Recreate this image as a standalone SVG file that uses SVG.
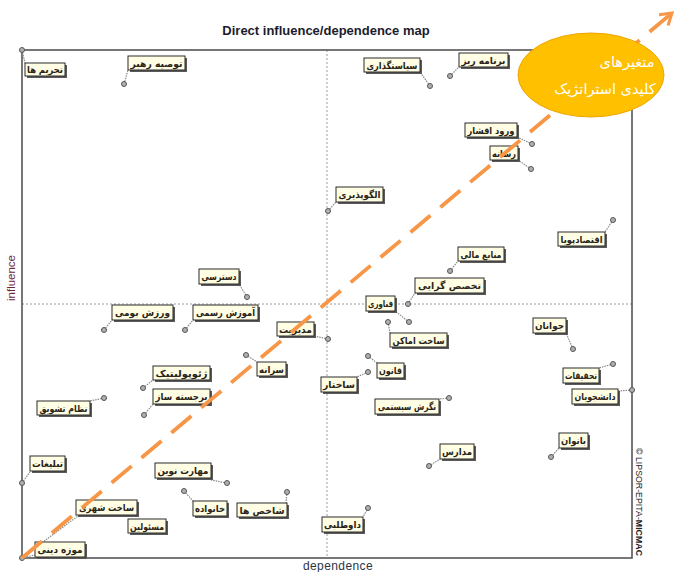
<svg xmlns="http://www.w3.org/2000/svg" width="698" height="572" viewBox="0 0 698 572">
<style>
.sh{fill:#5a5a5a}
.bx{fill:#FFFEE4;stroke:#2a2a2a;stroke-width:1}
.lb{font-family:"DejaVu Sans",sans-serif;font-size:9.5px;font-weight:bold;fill:#2a2418;text-anchor:middle}
.pt{fill:#b0b0b0;stroke:#555;stroke-width:1}
.cn{stroke:#8a8a8a;stroke-width:1.2;stroke-dasharray:1.5 1;fill:none}
.mid{stroke:#9a9a9a;stroke-width:1;stroke-dasharray:2 2;fill:none}
</style>
<defs>
<marker id="ah" markerUnits="userSpaceOnUse" markerWidth="20" markerHeight="20" refX="12" refY="8" orient="auto">
<path d="M1,1 L12,8 L1,15" fill="none" stroke="#F79646" stroke-width="3" stroke-linejoin="miter"/>
</marker>
</defs>
<rect width="698" height="572" fill="#ffffff"/>
<text x="326" y="35" font-family="Liberation Sans, Arial, sans-serif" font-size="13" font-weight="bold" fill="#1c1c2c" text-anchor="middle">Direct influence/dependence map</text>
<g id="frame">
<line class="mid" x1="327" y1="50" x2="327" y2="558"/>
<line class="mid" x1="22" y1="304" x2="632" y2="304"/>
<rect x="22" y="50" width="610" height="508" fill="none" stroke="#555" stroke-width="1.6"/>
</g>
<text transform="translate(15,278) rotate(-90)" font-family="Liberation Sans, Arial, sans-serif" font-size="11.5" fill="#6b2b3a" text-anchor="middle">influence</text>
<text x="338" y="570" font-family="Liberation Sans, Arial, sans-serif" font-size="12" letter-spacing="0.4" fill="#2d3545" text-anchor="middle">dependence</text>
<text transform="translate(636,448) rotate(90)" font-family="Liberation Sans, Arial, sans-serif" font-size="8.8" fill="#222">© LIPSOR-EPITA-<tspan font-weight="bold">MICMAC</tspan></text>
<g id="connectors">
<line class="cn" x1="22" y1="50" x2="25" y2="63"/>
<line class="cn" x1="124" y1="84" x2="128" y2="70"/>
<line class="cn" x1="430" y1="86" x2="420" y2="72"/>
<line class="cn" x1="450" y1="76" x2="459" y2="67"/>
<line class="cn" x1="532" y1="144" x2="517" y2="137"/>
<line class="cn" x1="531" y1="169" x2="518" y2="160"/>
<line class="cn" x1="328" y1="211" x2="336" y2="202"/>
<line class="cn" x1="613" y1="220" x2="605" y2="232"/>
<line class="cn" x1="450" y1="271" x2="458" y2="261"/>
<line class="cn" x1="408" y1="304" x2="415" y2="293"/>
<line class="cn" x1="409" y1="322" x2="395" y2="311"/>
<line class="cn" x1="388" y1="322" x2="390" y2="333"/>
<line class="cn" x1="328" y1="339" x2="314" y2="336"/>
<line class="cn" x1="246" y1="355" x2="257" y2="362"/>
<line class="cn" x1="247" y1="297" x2="239" y2="284"/>
<line class="cn" x1="185" y1="330" x2="193" y2="320"/>
<line class="cn" x1="104" y1="330" x2="112" y2="320"/>
<line class="cn" x1="143" y1="388" x2="153" y2="380"/>
<line class="cn" x1="144" y1="415" x2="153" y2="404"/>
<line class="cn" x1="104" y1="398" x2="90" y2="401"/>
<line class="cn" x1="22" y1="483" x2="30" y2="472"/>
<line class="cn" x1="227" y1="483" x2="211" y2="480"/>
<line class="cn" x1="184" y1="491" x2="193" y2="501"/>
<line class="cn" x1="287" y1="492" x2="286" y2="503"/>
<line class="cn" x1="368" y1="508" x2="363" y2="517"/>
<line class="cn" x1="24" y1="556" x2="78" y2="516"/>
<line class="cn" x1="368" y1="356" x2="377" y2="363"/>
<line class="cn" x1="368" y1="372" x2="357" y2="377"/>
<line class="cn" x1="449" y1="398" x2="439" y2="399"/>
<line class="cn" x1="429" y1="466" x2="440" y2="459"/>
<line class="cn" x1="551" y1="457" x2="559" y2="448"/>
<line class="cn" x1="632" y1="390" x2="618" y2="391"/>
<line class="cn" x1="613" y1="364" x2="599" y2="368"/>
<line class="cn" x1="573" y1="349" x2="566" y2="333"/>
<line class="cn" x1="22" y1="558" x2="35" y2="555"/>
</g>
<g id="n01"><circle class="pt" cx="22" cy="50" r="2.5"/><rect class="sh" x="27" y="65" width="40" height="13"/><rect class="bx" x="25" y="63" width="40" height="13"/><text class="lb" x="45" y="73" textLength="36" lengthAdjust="spacingAndGlyphs">تحریم ها</text></g>
<g id="n02"><circle class="pt" cx="124" cy="84" r="2.5"/><rect class="sh" x="130" y="58" width="57" height="14"/><rect class="bx" x="128" y="56" width="57" height="14"/><text class="lb" x="156.5" y="66.5" textLength="52" lengthAdjust="spacingAndGlyphs">توصیه رهبر</text></g>
<g id="n03"><circle class="pt" cx="430" cy="86" r="2.5"/><rect class="sh" x="366" y="60" width="56" height="14"/><rect class="bx" x="364" y="58" width="56" height="14"/><text class="lb" x="392" y="68.5" textLength="51" lengthAdjust="spacingAndGlyphs">سیاستگذاری</text></g>
<g id="n04"><circle class="pt" cx="450" cy="76" r="2.5"/><rect class="sh" x="461" y="55" width="49" height="14"/><rect class="bx" x="459" y="53" width="49" height="14"/><text class="lb" x="483.5" y="63.5" textLength="44" lengthAdjust="spacingAndGlyphs">برنامه ریز</text></g>
<g id="n05"><circle class="pt" cx="532" cy="144" r="2.5"/><rect class="sh" x="467" y="125" width="52" height="14"/><rect class="bx" x="465" y="123" width="52" height="14"/><text class="lb" x="491" y="133.5" textLength="47" lengthAdjust="spacingAndGlyphs">ورود اقشار</text></g>
<g id="n06"><circle class="pt" cx="531" cy="169" r="2.5"/><rect class="sh" x="492" y="148" width="28" height="14"/><rect class="bx" x="490" y="146" width="28" height="14"/><text class="lb" x="504" y="156.5" textLength="24" lengthAdjust="spacingAndGlyphs">رسانه</text></g>
<g id="n07"><circle class="pt" cx="328" cy="211" r="2.5"/><rect class="sh" x="338" y="189" width="47" height="15"/><rect class="bx" x="336" y="187" width="47" height="15"/><text class="lb" x="359.5" y="198" textLength="42" lengthAdjust="spacingAndGlyphs">الگوپذیری</text></g>
<g id="n08"><circle class="pt" cx="613" cy="220" r="2.5"/><rect class="sh" x="560" y="234" width="47" height="14"/><rect class="bx" x="558" y="232" width="47" height="14"/><text class="lb" x="581.5" y="242.5" textLength="42" lengthAdjust="spacingAndGlyphs">اقتصادپویا</text></g>
<g id="n09"><circle class="pt" cx="450" cy="271" r="2.5"/><rect class="sh" x="460" y="249" width="46" height="14"/><rect class="bx" x="458" y="247" width="46" height="14"/><text class="lb" x="481" y="257.5" textLength="41" lengthAdjust="spacingAndGlyphs">منابع مالی</text></g>
<g id="n10"><circle class="pt" cx="408" cy="304" r="2.5"/><rect class="sh" x="417" y="280" width="69" height="15"/><rect class="bx" x="415" y="278" width="69" height="15"/><text class="lb" x="449.5" y="289" textLength="63" lengthAdjust="spacingAndGlyphs">تخصص گرایی</text></g>
<g id="n11"><circle class="pt" cx="409" cy="322" r="2.5"/><rect class="sh" x="368" y="298" width="29" height="15"/><rect class="bx" x="366" y="296" width="29" height="15"/><text class="lb" x="380.5" y="307" textLength="25" lengthAdjust="spacingAndGlyphs">فناوری</text></g>
<g id="n12"><circle class="pt" cx="388" cy="322" r="2.5"/><rect class="sh" x="392" y="335" width="57" height="14"/><rect class="bx" x="390" y="333" width="57" height="14"/><text class="lb" x="418.5" y="343.5" textLength="52" lengthAdjust="spacingAndGlyphs">ساخت اماکن</text></g>
<g id="n13"><circle class="pt" cx="328" cy="339" r="2.5"/><rect class="sh" x="279" y="324" width="37" height="14"/><rect class="bx" x="277" y="322" width="37" height="14"/><text class="lb" x="295.5" y="332.5" textLength="33" lengthAdjust="spacingAndGlyphs">مدیریت</text></g>
<g id="n14"><circle class="pt" cx="246" cy="355" r="2.5"/><rect class="sh" x="259" y="364" width="29" height="14"/><rect class="bx" x="257" y="362" width="29" height="14"/><text class="lb" x="271.5" y="372.5" textLength="25" lengthAdjust="spacingAndGlyphs">سرانه</text></g>
<g id="n15"><circle class="pt" cx="247" cy="297" r="2.5"/><rect class="sh" x="201" y="271" width="40" height="15"/><rect class="bx" x="199" y="269" width="40" height="15"/><text class="lb" x="219" y="280" textLength="35" lengthAdjust="spacingAndGlyphs">دسترسی</text></g>
<g id="n16"><circle class="pt" cx="185" cy="330" r="2.5"/><rect class="sh" x="195" y="307" width="65" height="15"/><rect class="bx" x="193" y="305" width="65" height="15"/><text class="lb" x="225.5" y="316" textLength="59" lengthAdjust="spacingAndGlyphs">آموزش رسمی</text></g>
<g id="n17"><circle class="pt" cx="104" cy="330" r="2.5"/><rect class="sh" x="114" y="307" width="61" height="15"/><rect class="bx" x="112" y="305" width="61" height="15"/><text class="lb" x="142.5" y="316" textLength="55" lengthAdjust="spacingAndGlyphs">ورزش بومی</text></g>
<g id="n18"><circle class="pt" cx="143" cy="388" r="2.5"/><rect class="sh" x="155" y="368" width="57" height="14"/><rect class="bx" x="153" y="366" width="57" height="14"/><text class="lb" x="181.5" y="376.5" textLength="52" lengthAdjust="spacingAndGlyphs">ژئوپولیتیک</text></g>
<g id="n19"><circle class="pt" cx="144" cy="415" r="2.5"/><rect class="sh" x="155" y="391" width="57" height="15"/><rect class="bx" x="153" y="389" width="57" height="15"/><text class="lb" x="181.5" y="400" textLength="52" lengthAdjust="spacingAndGlyphs">برجسته ساز</text></g>
<g id="n20"><circle class="pt" cx="104" cy="398" r="2.5"/><rect class="sh" x="39" y="403" width="53" height="14"/><rect class="bx" x="37" y="401" width="53" height="14"/><text class="lb" x="63.5" y="411.5" textLength="48" lengthAdjust="spacingAndGlyphs">نظام تشویق</text></g>
<g id="n21"><circle class="pt" cx="22" cy="483" r="2.5"/><rect class="sh" x="32" y="458" width="35" height="15"/><rect class="bx" x="30" y="456" width="35" height="15"/><text class="lb" x="47.5" y="467" textLength="31" lengthAdjust="spacingAndGlyphs">تبلیغات</text></g>
<g id="n22"><circle class="pt" cx="227" cy="483" r="2.5"/><rect class="sh" x="157" y="465" width="56" height="15"/><rect class="bx" x="155" y="463" width="56" height="15"/><text class="lb" x="183" y="474" textLength="51" lengthAdjust="spacingAndGlyphs">مهارت نوین</text></g>
<g id="n23"><circle class="pt" cx="184" cy="491" r="2.5"/><rect class="sh" x="195" y="503" width="34" height="15"/><rect class="bx" x="193" y="501" width="34" height="15"/><text class="lb" x="210" y="512" textLength="30" lengthAdjust="spacingAndGlyphs">خانواده</text></g>
<g id="n24"><circle class="pt" cx="287" cy="492" r="2.5"/><rect class="sh" x="239" y="505" width="50" height="14"/><rect class="bx" x="237" y="503" width="50" height="14"/><text class="lb" x="262" y="513.5" textLength="45" lengthAdjust="spacingAndGlyphs">شاخص ها</text></g>
<g id="n25"><circle class="pt" cx="368" cy="508" r="2.5"/><rect class="sh" x="324" y="519" width="41" height="15"/><rect class="bx" x="322" y="517" width="41" height="15"/><text class="lb" x="342.5" y="528" textLength="37" lengthAdjust="spacingAndGlyphs">داوطلبی</text></g>
<g id="n26"><rect class="sh" x="78" y="502" width="61" height="15"/><rect class="bx" x="76" y="500" width="61" height="15"/><text class="lb" x="106.5" y="511" textLength="55" lengthAdjust="spacingAndGlyphs">ساخت شهری</text></g>
<g id="n27"><rect class="sh" x="130" y="521" width="38" height="14"/><rect class="bx" x="128" y="519" width="38" height="14"/><text class="lb" x="147" y="529.5" textLength="34" lengthAdjust="spacingAndGlyphs">مسئولین</text></g>
<g id="n28"><circle class="pt" cx="368" cy="356" r="2.5"/><rect class="sh" x="379" y="365" width="27" height="15"/><rect class="bx" x="377" y="363" width="27" height="15"/><text class="lb" x="390.5" y="374" textLength="23" lengthAdjust="spacingAndGlyphs">قانون</text></g>
<g id="n29"><circle class="pt" cx="368" cy="372" r="2.5"/><rect class="sh" x="323" y="379" width="36" height="15"/><rect class="bx" x="321" y="377" width="36" height="15"/><text class="lb" x="339" y="388" textLength="32" lengthAdjust="spacingAndGlyphs">ساختار</text></g>
<g id="n30"><circle class="pt" cx="449" cy="398" r="2.5"/><rect class="sh" x="377" y="401" width="64" height="15"/><rect class="bx" x="375" y="399" width="64" height="15"/><text class="lb" x="407" y="410" textLength="58" lengthAdjust="spacingAndGlyphs">نگرش سیستمی</text></g>
<g id="n31"><circle class="pt" cx="429" cy="466" r="2.5"/><rect class="sh" x="442" y="446" width="34" height="15"/><rect class="bx" x="440" y="444" width="34" height="15"/><text class="lb" x="457" y="455" textLength="30" lengthAdjust="spacingAndGlyphs">مدارس</text></g>
<g id="n32"><circle class="pt" cx="551" cy="457" r="2.5"/><rect class="sh" x="561" y="435" width="29" height="15"/><rect class="bx" x="559" y="433" width="29" height="15"/><text class="lb" x="573.5" y="444" textLength="25" lengthAdjust="spacingAndGlyphs">بانوان</text></g>
<g id="n33"><circle class="pt" cx="632" cy="390" r="2.5"/><rect class="sh" x="574" y="391" width="46" height="15"/><rect class="bx" x="572" y="389" width="46" height="15"/><text class="lb" x="595" y="400" textLength="41" lengthAdjust="spacingAndGlyphs">دانشجویان</text></g>
<g id="n34"><circle class="pt" cx="613" cy="364" r="2.5"/><rect class="sh" x="565" y="370" width="36" height="15"/><rect class="bx" x="563" y="368" width="36" height="15"/><text class="lb" x="581" y="379" textLength="32" lengthAdjust="spacingAndGlyphs">تحقیقات</text></g>
<g id="n35"><circle class="pt" cx="573" cy="349" r="2.5"/><rect class="sh" x="535" y="320" width="33" height="15"/><rect class="bx" x="533" y="318" width="33" height="15"/><text class="lb" x="549.5" y="329" textLength="29" lengthAdjust="spacingAndGlyphs">جوانان</text></g>
<g id="n36"><circle class="pt" cx="22" cy="558" r="2.5"/><rect class="sh" x="37" y="544" width="50" height="15"/><rect class="bx" x="35" y="542" width="50" height="15"/><text class="lb" x="60" y="553" textLength="45" lengthAdjust="spacingAndGlyphs">موزه دینی</text></g>
<g id="trend">
<line x1="22" y1="558" x2="672" y2="13" stroke="#F79646" stroke-width="3.8" stroke-dasharray="26 13" marker-end="url(#ah)"/>
</g>
<g id="key">
<ellipse cx="591" cy="75" rx="73" ry="42" fill="#FFC000" stroke="#F0A500" stroke-width="1"/>
<text x="627" y="67" font-family="DejaVu Sans, sans-serif" font-size="14.5" fill="#ffffff" text-anchor="middle">متغیرهای</text>
<text x="605" y="94" font-family="DejaVu Sans, sans-serif" font-size="14.5" fill="#ffffff" text-anchor="middle">کلیدی استراتژیک</text>
</g>
</svg>
